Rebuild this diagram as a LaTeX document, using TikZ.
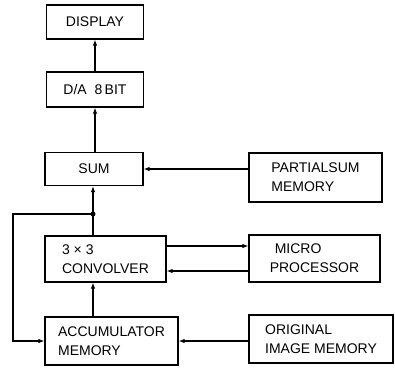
\documentclass[tikz,border=0pt]{standalone}
\usepackage{fontspec}
\setmainfont{Liberation Sans}
\usetikzlibrary{arrows.meta}
\tikzset{
  blk/.style={draw, line width=1.2pt, align=left, inner sep=0pt},
  arr/.style={-{Latex[length=6pt,width=4.5pt]}, line width=1.5pt}
}
\begin{document}
\begin{tikzpicture}[x=1pt, y=-1pt, font=\fontsize{14}{19}\selectfont]
    \useasboundingbox (0,0) rectangle (395,368);
    \node[blk, minimum width=97pt, minimum height=34pt] (disp) at (95,22) {DISPLAY};
    \node[blk, minimum width=97pt, minimum height=35pt] (da) at (95,89.5) {D/A\ \ 8\,BIT};
    \node[blk, minimum width=98pt, minimum height=33pt] (sum) at (94,169) {SUM};
    \node[blk, minimum width=121pt, minimum height=46pt] (conv) at (105.5,259) {3 × 3\\CONVOLVER};
    \node[blk, minimum width=133pt, minimum height=48pt] (acc) at (111.5,341) {ACCUMULATOR\\MEMORY};
    \node[blk, minimum width=133pt, minimum height=49pt] (psum) at (315.5,177.5) {PARTIALSUM\\MEMORY};
    \node[blk, minimum width=131pt, minimum height=47pt] (micro) at (314.5,258.5) {\hspace*{5pt}MICRO\\PROCESSOR};
    \node[blk, minimum width=144pt, minimum height=48pt] (orig) at (321,339) {ORIGINAL\\IMAGE MEMORY};
    \coordinate (dot) at (93,214);
    \coordinate (fb) at (13,214);
    \draw[arr] (da.north -| disp.south) -- (disp.south);
    \draw[arr] (sum.north -| da.south) -- (da.south);
    \draw[arr] (conv.north -| dot) -- (sum.south -| dot);
    \draw[arr] (dot) -- (fb) |- (acc.west);
    \fill (dot) circle (2.5pt);
    \draw[arr] (acc.north -| dot) -- (conv.south -| dot);
    \draw[arr] (sum.east -| psum.west) -- (sum.east);
    \draw[arr] ([yshift=13pt]conv.east) -- ([yshift=13pt]conv.east -| micro.west);
    \draw[arr] ([yshift=-12pt]conv.east -| micro.west) -- ([yshift=-12pt]conv.east);
    \draw[arr] (acc.east -| orig.west) -- (acc.east);
\end{tikzpicture}
\end{document}
